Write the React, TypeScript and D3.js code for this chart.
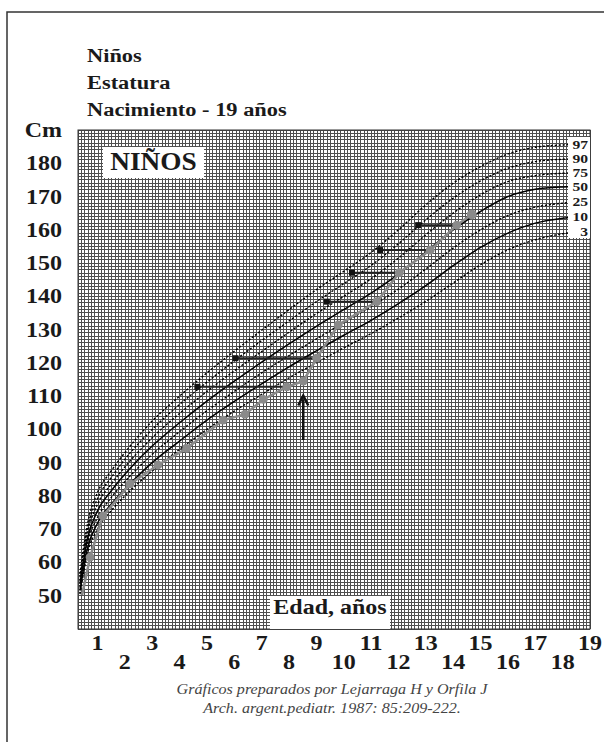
import React from "react";
import * as d3 from "d3";

// ages (years) and percentile heights (cm)
const ages = [0.1, 0.5, 1, 1.5, 2, 3, 4, 5, 6, 7, 8, 9, 10, 11, 12, 13, 14, 15, 16, 17, 18, 19];
const p3 = [50.5, 63.0, 70.0, 75.5, 80.0, 87.5, 94.0, 100.0, 105.5, 110.5, 115.5, 120.0, 124.5, 128.8, 133.5, 138.5, 144.0, 149.5, 154.0, 157.0, 158.8, 159.6];
const p10 = [51.5, 64.5, 71.8, 77.5, 82.0, 90.0, 96.5, 102.8, 108.4, 113.7, 118.8, 123.6, 128.3, 132.8, 137.8, 143.2, 149.2, 154.7, 159.0, 162.0, 163.5, 164.1];
const p25 = [52.5, 66.0, 73.5, 79.5, 84.3, 92.5, 99.3, 105.6, 111.4, 117.0, 122.2, 127.2, 132.1, 136.9, 142.2, 148.2, 154.5, 160.0, 164.3, 166.8, 168.0, 168.4];
const p50 = [53.5, 67.5, 75.5, 81.5, 86.5, 95.0, 102.0, 108.5, 114.5, 120.2, 125.7, 131.0, 136.0, 141.0, 146.7, 153.3, 160.0, 165.5, 170.0, 172.2, 172.9, 173.1];
const p75 = [54.5, 69.0, 77.5, 83.5, 88.7, 97.5, 104.8, 111.4, 117.6, 123.4, 129.2, 134.8, 140.0, 145.3, 151.5, 158.5, 165.0, 170.5, 174.5, 176.3, 177.0, 177.2];
const p90 = [55.5, 70.5, 79.2, 85.5, 91.0, 100.0, 107.5, 114.2, 120.6, 126.7, 132.6, 138.4, 143.8, 149.3, 155.8, 163.0, 169.5, 174.7, 178.5, 180.5, 181.2, 181.4];
const p97 = [56.5, 72.0, 81.0, 87.5, 93.0, 102.5, 110.0, 117.0, 123.5, 129.8, 136.0, 142.0, 147.5, 153.2, 160.0, 167.5, 174.0, 179.0, 182.8, 184.8, 185.5, 185.7];

const percentiles = [
  { label: "97", values: p97, solid: false },
  { label: "90", values: p90, solid: false },
  { label: "75", values: p75, solid: false },
  { label: "50", values: p50, solid: true },
  { label: "25", values: p25, solid: false },
  { label: "10", values: p10, solid: true },
  { label: "3", values: p3, solid: false },
];

// the child's measurements (grey line)
const childAges = [0.21, 0.62, 1.2, 2.19, 3.21, 4.26, 5.59, 6.39, 7.06, 7.92, 8.52, 9.01, 9.8, 11.21, 12.03, 13.16, 14.13, 14.68];
const childHeights = [50.2, 61.6, 74.0, 83.6, 89.3, 94.3, 102.8, 104.5, 109.0, 112.8, 114.5, 121.4, 131.4, 138.4, 147.1, 153.9, 161.4, 164.6];

// black squares joined to a measurement of the same height
const squareAges = [4.65, 6.04, 9.38, 10.3, 11.33, 12.72];
const squareToAges = [7.92, 9.01, 11.21, 12.03, 13.16, 14.13];
const squareHeights = [112.8, 121.4, 138.4, 147.1, 153.9, 161.4];

// arrow
const arrowAge = 8.52;
const arrowFrom = 96.8;
const arrowTo = 110.2;

const yTicks = [50, 60, 70, 80, 90, 100, 110, 120, 130, 140, 150, 160, 170, 180];
const xTicks = [1, 2, 3, 4, 5, 6, 7, 8, 9, 10, 11, 12, 13, 14, 15, 16, 17, 18, 19];

const titleLines = ["Niños", "Estatura", "Nacimiento - 19 años"];

const FONT = "'Liberation Serif', 'Times New Roman', serif";

// text that is a bit wider than the font, like the scanned original
function T({ x, y, size, sx = 1.2, anchor = "start", italic = false, bold = true, fill = "#1a1a1a", children }: any) {
  return (
    <text
      transform={`translate(${x},${y}) scale(${sx},1)`}
      textAnchor={anchor}
      fontFamily={FONT}
      fontWeight={bold ? "bold" : "normal"}
      fontStyle={italic ? "italic" : "normal"}
      fontSize={size}
      fill={fill}
    >
      {children}
    </text>
  );
}

export default function App() {
  const x = d3.scaleLinear().domain([0, 1, 19]).range([78, 97.5, 590]);
  const y = d3.scaleLinear().domain([40, 190]).range([629, 130]);
  const gridX = d3.scaleLinear().domain([0, 152]).range([78, 590]);

  const line = d3
    .line<[number, number]>()
    .x((d) => x(d[0]))
    .y((d) => y(d[1]))
    .curve(d3.curveMonotoneX);

  const childLine = d3
    .line<[number, number]>()
    .x((d) => x(d[0]))
    .y((d) => y(d[1]));

  const childPts: [number, number][] = childAges.map((a, i) => [a, childHeights[i]]);

  return (
    <svg width={604} height={742} style={{ display: "block", position: "absolute", left: 0, top: 0 }}>
      <rect x={0} y={0} width={604} height={742} fill="#fff" />
      <rect x={7} y={12} width={640} height={780} fill="none" stroke="#333" strokeWidth={1.5} />

      {titleLines.map((t, i) => (
        <T key={t} x={87} y={62 + i * 27} size={19} sx={1.18}>
          {t}
        </T>
      ))}

      {/* grid */}
      <g stroke="#4f4f4f" strokeWidth={1} shapeRendering="crispEdges">
        {d3.range(0, 153).map((i) => (
          <line key={"v" + i} x1={gridX(i)} x2={gridX(i)} y1={y(190)} y2={y(40)} />
        ))}
        {d3.range(40, 191).map((v) => (
          <line key={"h" + v} x1={x(0)} x2={x(19)} y1={y(v)} y2={y(v)} />
        ))}
      </g>
      <rect x={x(0)} y={y(190)} width={x(19) - x(0)} height={y(40) - y(190)} fill="none" stroke="#333" strokeWidth={1} />

      {/* y labels */}
      <T x={62} y={y(190) + 7} size={20} anchor="end">
        Cm
      </T>
      {yTicks.map((t) => (
        <T key={t} x={62} y={y(t) + 7} size={20} anchor="end">
          {t}
        </T>
      ))}

      {/* x labels */}
      {xTicks.map((t) => (
        <T key={t} x={x(t)} y={t % 2 === 1 ? 650 : 669} size={20} anchor="middle">
          {t}
        </T>
      ))}

      {/* white label boxes */}
      <rect x={103} y={147} width={101} height={31} fill="#fff" />
      <T x={153.5} y={170} size={26} sx={1.05} anchor="middle">
        NIÑOS
      </T>
      <rect x={270} y={596} width={120} height={33} fill="#fff" />
      <T x={330} y={614} size={20} sx={1.2} anchor="middle">
        Edad, años
      </T>

      {/* percentile curves */}
      {percentiles.map((p) => (
        <path
          key={p.label}
          d={line(ages.map((a, i) => [a, p.values[i]] as [number, number])) || ""}
          fill="none"
          stroke="#000"
          strokeWidth={p.solid ? 1.5 : 1.4}
          strokeDasharray={p.solid ? undefined : "2.2,1.8"}
        />
      ))}

      <rect x={568} y={137} width={22} height={101} fill="#fff" />
      {percentiles.map((p) => (
        <T key={"l" + p.label} x={588} y={y(p.values[p.values.length - 1]) + 4.5} size={12.5} sx={1.25} anchor="end">
          {p.label}
        </T>
      ))}

      {/* squares and connecting lines */}
      {squareAges.map((a, i) => (
        <g key={"s" + i}>
          <line x1={x(a)} x2={x(squareToAges[i])} y1={y(squareHeights[i])} y2={y(squareHeights[i])} stroke="#222" strokeWidth={2} />
          <rect x={x(a) - 3} y={y(squareHeights[i]) - 3} width={6} height={6} fill="#111" />
        </g>
      ))}

      {/* child's line */}
      <path d={childLine(childPts) || ""} fill="none" stroke="#8a8a8a" strokeWidth={2.5} />
      {childPts.slice(1).map((d, i) => (
        <circle
          key={"c" + i}
          cx={x(d[0])}
          cy={y(d[1])}
          r={i === childPts.length - 2 ? 5 : 4.4}
          fill="#8a8a8a"
        />
      ))}

      {/* arrow */}
      <line x1={x(arrowAge)} x2={x(arrowAge)} y1={y(arrowFrom)} y2={y(arrowTo) + 4} stroke="#111" strokeWidth={2.5} />
      <path
        d={`M${x(arrowAge) - 5},${y(arrowTo) + 10} L${x(arrowAge)},${y(arrowTo)} L${x(arrowAge) + 5},${y(arrowTo) + 10}`}
        fill="none"
        stroke="#111"
        strokeWidth={2.5}
      />

      {/* footer */}
      <T x={332} y={694} size={14} sx={1.15} anchor="middle" italic bold={false} fill="#444">
        Gráficos preparados por Lejarraga H y Orfila J
      </T>
      <T x={332} y={713} size={14} sx={1.15} anchor="middle" italic bold={false} fill="#444">
        Arch. argent.pediatr. 1987: 85:209-222.
      </T>
    </svg>
  );
}
